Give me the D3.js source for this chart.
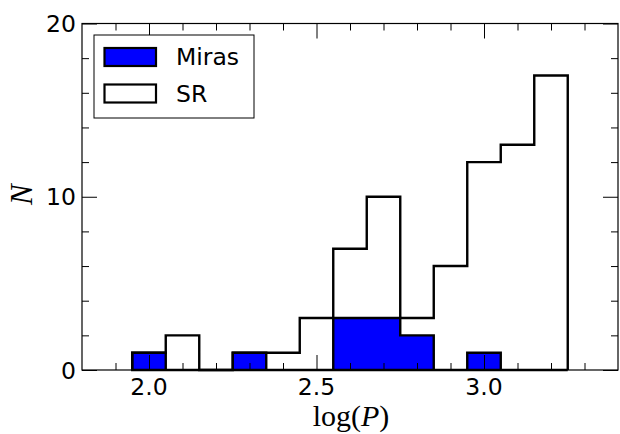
<!DOCTYPE html>
<html>
<head>
<meta charset="utf-8">
<script src="https://cdn.jsdelivr.net/npm/d3@7"></script>
<style>
  html, body { margin: 0; padding: 0; background: #fff; }
  svg { display: block; }
</style>
</head>
<body>
<script>
// histogram bins (edges) and counts
const binEdges = [1.95, 2.05, 2.15, 2.25, 2.35, 2.45, 2.55, 2.65, 2.75, 2.85, 2.95, 3.05, 3.15, 3.25];
const mirasCounts = [1, 0, 0, 1, 0, 0, 3, 3, 2, 0, 1, 0, 0];
const srCounts = [1, 2, 0, 1, 1, 3, 7, 10, 3, 6, 12, 13, 17];
const xMajorTicks = [2.0, 2.5, 3.0];
const xMinorTicks = [1.9, 2.1, 2.2, 2.3, 2.4, 2.6, 2.7, 2.8, 2.9, 3.1, 3.2, 3.3];
const yMajorTicks = [0, 10, 20];
const yMinorTicks = [2, 4, 6, 8, 12, 14, 16, 18];
const legendLabels = ["Miras", "SR"];

const width = 620, height = 434;
const margin = {top: 23.5, right: 2, bottom: 64, left: 82};

const svg = d3.select("body").append("svg")
    .attr("width", width)
    .attr("height", height);

const x = d3.scaleLinear().domain([1.8, 3.4]).range([margin.left, width - margin.right]);
const y = d3.scaleLinear().domain([0, 20]).range([height - margin.bottom, margin.top]);

// step outline for a histogram
function stepPoints(counts) {
    const pts = [[binEdges[0], 0]];
    counts.forEach((c, i) => {
        pts.push([binEdges[i], c]);
        pts.push([binEdges[i + 1], c]);
    });
    pts.push([binEdges[binEdges.length - 1], 0]);
    return pts;
}

const line = d3.line().x(d => x(d[0])).y(d => y(d[1]));

svg.append("path")
    .attr("d", line(stepPoints(mirasCounts)) + "Z")
    .attr("fill", "#0000ff")
    .attr("stroke", "#000")
    .attr("stroke-width", 2.4)
    .attr("stroke-linejoin", "miter");

svg.append("path")
    .attr("d", line(stepPoints(srCounts)))
    .attr("fill", "none")
    .attr("stroke", "#000")
    .attr("stroke-width", 2.4)
    .attr("stroke-linejoin", "miter");

// axes with inward ticks on all four sides
const fontSans = "DejaVu Sans, sans-serif";
const x0 = x.range()[0], x1 = x.range()[1];
const y0 = y.range()[0], y1 = y.range()[1];

function tickAxis(axisFn, scale, ticks, size, translate) {
    const g = svg.append("g")
        .attr("transform", translate)
        .call(axisFn(scale).tickValues(ticks).tickSize(size).tickFormat(""));
    g.select(".domain").remove();
    g.selectAll(".tick line").attr("stroke", "#000").attr("stroke-width", 1);
    return g;
}

const majorLen = 15, minorLen = 7;
tickAxis(d3.axisBottom, x, xMajorTicks, -majorLen, `translate(0,${y0})`);
tickAxis(d3.axisBottom, x, xMinorTicks, -minorLen, `translate(0,${y0})`);
tickAxis(d3.axisTop, x, xMajorTicks, -majorLen, `translate(0,${y1})`);
tickAxis(d3.axisTop, x, xMinorTicks, -minorLen, `translate(0,${y1})`);
tickAxis(d3.axisLeft, y, yMajorTicks, -majorLen, `translate(${x0},0)`);
tickAxis(d3.axisLeft, y, yMinorTicks, -minorLen, `translate(${x0},0)`);
tickAxis(d3.axisRight, y, yMajorTicks, -majorLen, `translate(${x1},0)`);
tickAxis(d3.axisRight, y, yMinorTicks, -minorLen, `translate(${x1},0)`);

// tick labels
svg.append("g").selectAll("text")
    .data(xMajorTicks)
    .join("text")
    .attr("x", d => x(d))
    .attr("y", y0 + 25)
    .attr("text-anchor", "middle")
    .attr("font-family", fontSans)
    .attr("font-size", 23.5)
    .text(d => d3.format(".1f")(d));

svg.append("g").selectAll("text")
    .data(yMajorTicks)
    .join("text")
    .attr("x", x0 - 6)
    .attr("y", d => y(d) + 8.5)
    .attr("text-anchor", "end")
    .attr("font-family", fontSans)
    .attr("font-size", 23.5)
    .text(d => d);

// frame
svg.append("rect")
    .attr("x", x0).attr("y", y1)
    .attr("width", x1 - x0).attr("height", y0 - y1)
    .attr("fill", "none")
    .attr("stroke", "#000")
    .attr("stroke-width", 1.2);

// axis labels
const xl = svg.append("text")
    .attr("x", (x0 + x1) / 2 + 1)
    .attr("y", 426)
    .attr("text-anchor", "middle")
    .attr("font-family", "Liberation Serif, serif")
    .attr("font-size", 30);
xl.append("tspan").text("log(");
xl.append("tspan").attr("font-style", "italic").text("P");
xl.append("tspan").text(")");

svg.append("text")
    .attr("transform", `translate(32,${y(10) - 2}) rotate(-90)`)
    .attr("text-anchor", "middle")
    .attr("font-family", "Liberation Serif, serif")
    .attr("font-style", "italic")
    .attr("font-size", 31)
    .text("N");

// legend
const legend = svg.append("g");
legend.append("rect")
    .attr("x", 94).attr("y", 35)
    .attr("width", 160).attr("height", 83)
    .attr("fill", "#fff")
    .attr("stroke", "#000")
    .attr("stroke-width", 1);

const legendFills = ["#0000ff", "#fff"];
legendLabels.forEach((name, i) => {
    const top = 48 + i * 36.5;
    legend.append("rect")
        .attr("x", 104.5).attr("y", top)
        .attr("width", 51.5).attr("height", 18)
        .attr("fill", legendFills[i])
        .attr("stroke", "#000")
        .attr("stroke-width", 2.2);
    legend.append("text")
        .attr("x", 176)
        .attr("y", top + 17.3)
        .attr("font-family", fontSans)
        .attr("font-size", 23.5)
        .text(name);
});
</script>
</body>
</html>
